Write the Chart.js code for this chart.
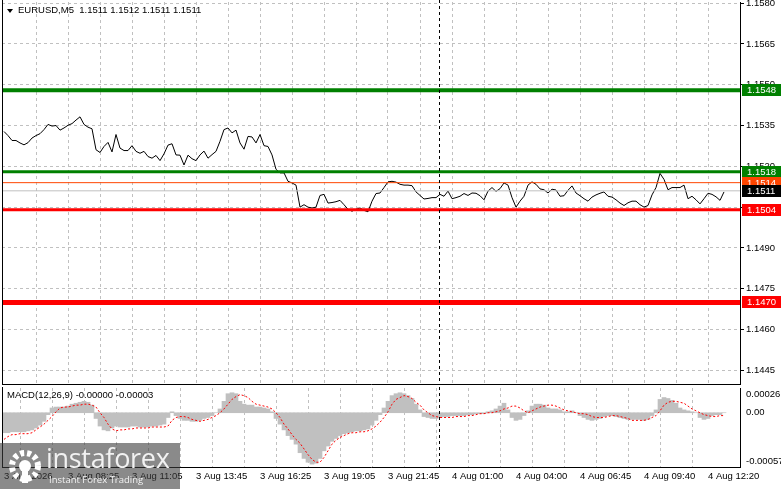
<!DOCTYPE html>
<html>
<head>
<meta charset="utf-8">
<script src="https://cdn.jsdelivr.net/npm/chart.js@4.4.1/dist/chart.umd.min.js"></script>
<style>
  html, body { margin: 0; padding: 0; background: #fff; }
  #wrap { position: relative; width: 781px; height: 489px; overflow: hidden; font-family: "Liberation Sans", Arial, sans-serif; }
  canvas { position: absolute; left: 0; }
  #priceChart { top: 0; }
  #macdChart { top: 386px; }
  .txt { position: absolute; font-size: 9.5px; line-height: 12px; color: #000; white-space: pre; }
  #tri { position: absolute; left: 7px; top: 9px; width: 0; height: 0; border-left: 3px solid transparent; border-right: 3px solid transparent; border-top: 4px solid #000; }
  #logo { position: absolute; left: 0; top: 443px; width: 180px; height: 46px; background: rgba(60, 60, 60, 0.6); }
  #logo .big { position: absolute; left: 46px; top: 0px; font-family: "Open Sans", sans-serif; font-size: 27px; line-height: 30px; color: #f2f2f2; letter-spacing: -0.3px; }
  #logo .small { position: absolute; left: 49px; top: 31px; font-family: "Open Sans", sans-serif; font-size: 9.5px; line-height: 12px; color: #f2f2f2; }
  #logo svg { position: absolute; left: 6px; top: 3px; }
</style>
</head>
<body>
<div id="wrap">
  <canvas id="priceChart" width="781" height="386"></canvas>
  <canvas id="macdChart" width="781" height="103"></canvas>
  <div id="tri"></div>
  <div class="txt" style="left:18px;top:4px;">EURUSD,M5  1.1511 1.1512 1.1511 1.1511</div>
  <div class="txt" style="left:7px;top:389px;">MACD(12,26,9) -0.00000 -0.00003</div>
  <div id="logo">
    <svg width="38" height="40" viewBox="0 0 38 40">
      <circle cx="19" cy="20" r="13" fill="none" stroke="#fff" stroke-width="6" stroke-dasharray="4 3"></circle>
      <circle cx="19" cy="20" r="6" fill="#fff"></circle>
      <rect x="16" y="20" width="6" height="17" fill="#fff"></rect>
    </svg>
    <div class="big">instaforex</div>
    <div class="small">Instant Forex Trading</div>
  </div>
</div>
<script>
// EURUSD M5 close, one value per two bars
const prices = [
  1.15328, 1.15313, 1.15295, 1.15295, 1.15286, 1.15279, 1.15287, 1.15304, 1.15313, 1.15320,
  1.15335, 1.15354, 1.15348, 1.15350, 1.15333, 1.15341, 1.15351, 1.15357, 1.15370, 1.15382,
  1.15354, 1.15344, 1.15338, 1.15261, 1.15251, 1.15273, 1.15288, 1.15253, 1.15317, 1.15267,
  1.15258, 1.15258, 1.15276, 1.15255, 1.15248, 1.15255, 1.15236, 1.15230, 1.15240, 1.15221,
  1.15246, 1.15278, 1.15283, 1.15242, 1.15241, 1.15205, 1.15241, 1.15228, 1.15221, 1.15242,
  1.15256, 1.15230, 1.15243, 1.15255, 1.15292, 1.15335, 1.15341, 1.15323, 1.15333, 1.15286,
  1.15263, 1.15310, 1.15308, 1.15286, 1.15317, 1.15276, 1.15273, 1.15242, 1.15189, 1.15176,
  1.15176, 1.15145, 1.15139, 1.15131, 1.15050, 1.15059, 1.15050, 1.15047, 1.15050, 1.15093,
  1.15097, 1.15065, 1.15067, 1.15070, 1.15075, 1.15059, 1.15042, 1.15035, 1.15042, 1.15047,
  1.15038, 1.15033, 1.15072, 1.15100, 1.15102, 1.15122, 1.15143, 1.15145, 1.15142, 1.15134,
  1.15131, 1.15131, 1.15129, 1.15106, 1.15093, 1.15080, 1.15082, 1.15085, 1.15085, 1.15097,
  1.15090, 1.15109, 1.15081, 1.15085, 1.15090, 1.15100, 1.15093, 1.15102, 1.15101, 1.15092,
  1.15077, 1.15109, 1.15122, 1.15108, 1.15118, 1.15139, 1.15131, 1.15085, 1.15050, 1.15072,
  1.15090, 1.15131, 1.15143, 1.15134, 1.15117, 1.15114, 1.15102, 1.15116, 1.15113, 1.15090,
  1.15092, 1.15112, 1.15128, 1.15102, 1.15092, 1.15081, 1.15072, 1.15087, 1.15095, 1.15101,
  1.15106, 1.15090, 1.15087, 1.15077, 1.15065, 1.15056, 1.15066, 1.15072, 1.15072, 1.15059,
  1.15050, 1.15056, 1.15095, 1.15122, 1.15174, 1.15152, 1.15114, 1.15122, 1.15122, 1.15122,
  1.15131, 1.15081, 1.15090, 1.15077, 1.15062, 1.15081, 1.15101, 1.15097, 1.15088, 1.15075,
  1.15106
];

// MACD(12,26,9) main (histogram) and signal
const macdMain = [
  -21e-5, -21e-5, -20e-5, -20e-5, -20e-5, -20e-5, -19e-5, -18e-5, -16e-5, -13e-5,
  -9e-5, -2e-5, 5e-5, 6e-5, 6e-5, 6e-5, 7e-5, 9e-5, 10e-5, 11e-5,
  12e-5, 11e-5, 8e-5, -6e-5, -14e-5, -18e-5, -19e-5, -16e-5, -14e-5, -15e-5,
  -15e-5, -15e-5, -14e-5, -14e-5, -15e-5, -15e-5, -15e-5, -14e-5, -14e-5, -13e-5,
  -12e-5, -5e-5, 1e-5, -3e-5, -6e-5, -8e-5, -8e-5, -9e-5, -9e-5, -8e-5,
  -6e-5, -5e-5, -3e-5, 0, 4e-5, 12e-5, 20e-5, 21e-5, 20e-5, 12e-5,
  9e-5, 8e-5, 8e-5, 6e-5, 6e-5, 5e-5, 4e-5, 1e-5, -6e-5, -12e-5,
  -18e-5, -24e-5, -28e-5, -33e-5, -42e-5, -48e-5, -52e-5, -54e-5, -53e-5, -48e-5,
  -40e-5, -35e-5, -30e-5, -27e-5, -24e-5, -22e-5, -21e-5, -20e-5, -19e-5, -19e-5,
  -18e-5, -17e-5, -13e-5, -8e-5, -2e-5, 5e-5, 12e-5, 18e-5, 20e-5, 21e-5,
  20e-5, 18e-5, 15e-5, 9e-5, 3e-5, -4e-5, -5e-5, -6e-5, -6e-5, -5e-5,
  -4e-5, -4e-5, -3e-5, -3e-5, -3e-5, -3e-5, -2e-5, -2e-5, -1e-5, -1e-5,
  -1e-5, 1e-5, 2e-5, 4e-5, 7e-5, 10e-5, 3e-5, -5e-5, -8e-5, -7e-5,
  -3e-5, 2e-5, 7e-5, 9e-5, 9e-5, 8e-5, 5e-5, 4e-5, 4e-5, 3e-5,
  1e-5, 1e-5, 2e-5, 0, -3e-5, -5e-5, -7e-5, -8e-5, -7e-5, -6e-5,
  -4e-5, -3e-5, -3e-5, -4e-5, -5e-5, -6e-5, -7e-5, -7e-5, -7e-5, -7e-5,
  -8e-5, -7e-5, -3e-5, 3e-5, 14e-5, 16e-5, 15e-5, 13e-5, 10e-5, 5e-5,
  3e-5, 2e-5, 1e-5, 0, -5e-5, -7e-5, -6e-5, -3e-5, -2e-5, -2e-5,
  0
];
const macdSignal = [
  -28e-5, -25e-5, -23e-5, -23e-5, -22e-5, -22e-5, -22e-5, -21e-5, -18e-5, -15e-5,
  -12e-5, -8e-5, -4e-5, 1e-5, 5e-5, 6e-5, 6e-5, 7e-5, 8e-5, 8e-5,
  9e-5, 9e-5, 8e-5, 6e-5, 0, -5e-5, -12e-5, -17e-5, -19e-5, -18e-5,
  -18e-5, -17e-5, -17e-5, -16e-5, -16e-5, -16e-5, -16e-5, -15e-5, -15e-5, -15e-5,
  -15e-5, -14e-5, -8e-5, -5e-5, -4e-5, -4e-5, -5e-5, -7e-5, -8e-5, -9e-5,
  -8e-5, -7e-5, -5e-5, -3e-5, 0, 4e-5, 9e-5, 14e-5, 17e-5, 19e-5,
  18e-5, 16e-5, 12e-5, 9e-5, 8e-5, 7e-5, 6e-5, 4e-5, 0, -5e-5,
  -12e-5, -17e-5, -23e-5, -28e-5, -32e-5, -38e-5, -44e-5, -49e-5, -52e-5, -52e-5,
  -47e-5, -40e-5, -33e-5, -29e-5, -26e-5, -24e-5, -22e-5, -21e-5, -21e-5, -20e-5,
  -20e-5, -19e-5, -17e-5, -14e-5, -10e-5, -5e-5, 1e-5, 9e-5, 14e-5, 16e-5,
  18e-5, 17e-5, 15e-5, 11e-5, 8e-5, 3e-5, 0, -3e-5, -4e-5, -5e-5,
  -5e-5, -5e-5, -5e-5, -4e-5, -4e-5, -4e-5, -3e-5, -3e-5, -2e-5, -1e-5,
  -1e-5, 0, 0, 1e-5, 2e-5, 4e-5, 5e-5, 7e-5, 7e-5, 5e-5,
  2e-5, 0, 2e-5, 4e-5, 6e-5, 7e-5, 8e-5, 8e-5, 7e-5, 5e-5,
  3e-5, 2e-5, 1e-5, 0, -1e-5, -1e-5, -2e-5, -4e-5, -5e-5, -5e-5,
  -5e-5, -4e-5, -3e-5, -3e-5, -4e-5, -5e-5, -6e-5, -8e-5, -8e-5, -8e-5,
  -8e-5, -7e-5, -5e-5, -3e-5, 2e-5, 8e-5, 11e-5, 12e-5, 12e-5, 11e-5,
  10e-5, 7e-5, 4e-5, 2e-5, 0, -2e-5, -3e-5, -4e-5, -4e-5, -3e-5,
  -3e-5
];

// horizontal levels (support / resistance / bid)
const levels = [1.1548, 1.1518, 1.1514, 1.1511, 1.1504, 1.1470];
const levelStyle = [
  { line: '#008000', box: '#008000', width: 4 },
  { line: '#008000', box: '#008000', width: 3 },
  { line: '#ff4500', box: '#ff4500', width: 1 },
  { line: '#c0c0c0', box: '#000000', width: 1 },
  { line: '#ff0000', box: '#ff0000', width: 3 },
  { line: '#ff0000', box: '#ff0000', width: 5 }
];

const priceTicks = [1.1445, 1.1460, 1.1475, 1.1490, 1.1505, 1.1520, 1.1535, 1.1550, 1.1565, 1.1580];
const timeLabels = ['3 Aug 2026', '3 Aug 08:25', '3 Aug 11:05', '3 Aug 13:45', '3 Aug 16:25', '3 Aug 19:05',
  '3 Aug 21:45', '4 Aug 01:00', '4 Aug 04:00', '4 Aug 06:45', '4 Aug 09:40', '4 Aug 12:20'];
const macdTickValues = [0.00026, 0, -0.00057];
const macdTickLabels = ['0.00026', '0.00', '-0.00057'];
const daySeparator = 108.75;

const FONT = '"Liberation Sans", Arial, sans-serif';
const X_MIN = -0.5, X_MAX = 184;
const gridTicks = [];
for (let v = 0; v <= X_MAX; v += 8) gridTicks.push(v);
const gridColor = (c) => (c.tick && c.tick.value > 0 && c.tick.value < X_MAX) ? '#c0c0c0' : 'rgba(0,0,0,0)';
const noPad = (s) => { s.paddingTop = 0; s.paddingBottom = 0; s.paddingLeft = 0; s.paddingRight = 0; };

function drawSeparator(chart, top) {
  const { ctx, chartArea: a, scales: { x } } = chart;
  const sx = Math.round(x.getPixelForValue(daySeparator)) + 0.5;
  ctx.save();
  ctx.strokeStyle = '#000';
  ctx.lineWidth = 1;
  ctx.beginPath(); ctx.moveTo(a.left + 0.5, top); ctx.lineTo(a.left + 0.5, a.bottom); ctx.stroke();
  ctx.setLineDash([3, 3]);
  ctx.beginPath(); ctx.moveTo(sx, top); ctx.lineTo(sx, a.bottom); ctx.stroke();
  ctx.restore();
}

const mainDecor = {
  id: 'mainDecor',
  afterDatasetsDraw(chart) {
    const { ctx, scales: { y } } = chart;
    drawSeparator(chart, 0);
    ctx.save();
    ctx.font = '9.5px ' + FONT;
    ctx.textBaseline = 'middle';
    ctx.textAlign = 'left';
    levels.forEach((lv, k) => {
      const py = Math.round(y.getPixelForValue(lv));
      ctx.fillStyle = levelStyle[k].box;
      ctx.fillRect(742, py - 6, 39, 12);
      ctx.fillStyle = '#fff';
      ctx.fillText(lv.toFixed(4), 747, py + 0.5);
    });
    ctx.restore();
  }
};

const macdDecor = {
  id: 'macdDecor',
  afterDatasetsDraw(chart) {
    const { ctx, chartArea: a, scales: { y } } = chart;
    drawSeparator(chart, a.top - 1);
    ctx.save();
    ctx.font = '9.5px ' + FONT;
    ctx.textBaseline = 'middle';
    ctx.fillStyle = '#000';
    macdTickValues.forEach((v, k) => {
      let py = y.getPixelForValue(v);
      if (k === 0) py += 6;
      if (k === 2) py -= 6;
      ctx.fillText(macdTickLabels[k], 746, py);
    });
    ctx.restore();
  }
};

new Chart(document.getElementById('priceChart'), {
  type: 'line',
  data: {
    datasets: [
      ...levels.map((lv, k) => ({
        data: [{ x: X_MIN, y: lv }, { x: X_MAX, y: lv }],
        borderColor: levelStyle[k].line,
        borderWidth: levelStyle[k].width,
        pointRadius: 0
      })),
      {
        data: prices.map((v, i) => ({ x: i, y: v })),
        borderColor: '#000',
        borderWidth: 1,
        pointRadius: 0,
        tension: 0
      }
    ]
  },
  options: {
    responsive: false,
    animation: false,
    layout: { padding: { left: 2, top: 2, right: 0, bottom: 2 }, autoPadding: false },
    plugins: { legend: { display: false }, tooltip: { enabled: false } },
    scales: {
      x: {
        type: 'linear', min: X_MIN, max: X_MAX, bounds: 'data',
        afterBuildTicks: (s) => { s.ticks = gridTicks.map((v) => ({ value: v })); },
        ticks: { display: false },
        grid: { color: gridColor, drawTicks: false },
        border: { color: '#000', dash: [3, 3] },
        afterFit: (s) => { s.height = 0; noPad(s); }
      },
      y: {
        type: 'linear', position: 'right', min: 1.1440, max: 1.15804, bounds: 'data',
        afterBuildTicks: (s) => { s.ticks = priceTicks.map((v) => ({ value: v })); },
        ticks: { callback: (v) => Number(v).toFixed(4), color: '#000', font: { family: FONT, size: 9.5 }, padding: 2 },
        grid: { color: '#c0c0c0', tickColor: '#000', tickLength: 4, tickBorderDash: [] },
        border: { color: '#000', dash: [3, 3] },
        afterFit: (s) => { s.width = 41; noPad(s); }
      }
    }
  },
  plugins: [mainDecor]
});

new Chart(document.getElementById('macdChart'), {
  type: 'bar',
  data: {
    datasets: [
      {
        type: 'bar',
        data: macdMain.map((v, i) => ({ x: i, y: v })),
        backgroundColor: '#c0c0c0',
        borderWidth: 0,
        barPercentage: 1,
        categoryPercentage: 1,
        grouped: false,
        order: 2
      },
      {
        type: 'line',
        data: macdSignal.map((v, i) => ({ x: i, y: v })),
        borderColor: '#ff0000',
        borderWidth: 1,
        borderDash: [2, 2],
        pointRadius: 0,
        tension: 0,
        order: 1
      }
    ]
  },
  options: {
    responsive: false,
    animation: false,
    layout: { padding: { left: 2, top: 2, right: 0, bottom: 0 }, autoPadding: false },
    plugins: { legend: { display: false }, tooltip: { enabled: false } },
    scales: {
      x: {
        type: 'linear', offset: false, min: X_MIN, max: X_MAX, bounds: 'data',
        afterBuildTicks: (s) => { s.ticks = gridTicks.map((v) => ({ value: v })); },
        ticks: {
          autoSkip: false, maxRotation: 0, minRotation: 0, align: 'start', padding: 4,
          color: '#000', font: { family: FONT, size: 9.5 },
          callback: (v) => (v % 16 === 0 ? timeLabels[v / 16] : '')
        },
        grid: { color: gridColor, drawTicks: false },
        border: { color: '#000', dash: [3, 3] },
        afterFit: (s) => { s.height = 22; noPad(s); }
      },
      y: {
        type: 'linear', position: 'right', min: -0.00057, max: 0.00026, bounds: 'data',
        ticks: { display: false },
        grid: { display: false },
        border: { color: '#000' },
        afterFit: (s) => { s.width = 41; noPad(s); }
      }
    }
  },
  plugins: [macdDecor]
});
</script>
</body>
</html>
